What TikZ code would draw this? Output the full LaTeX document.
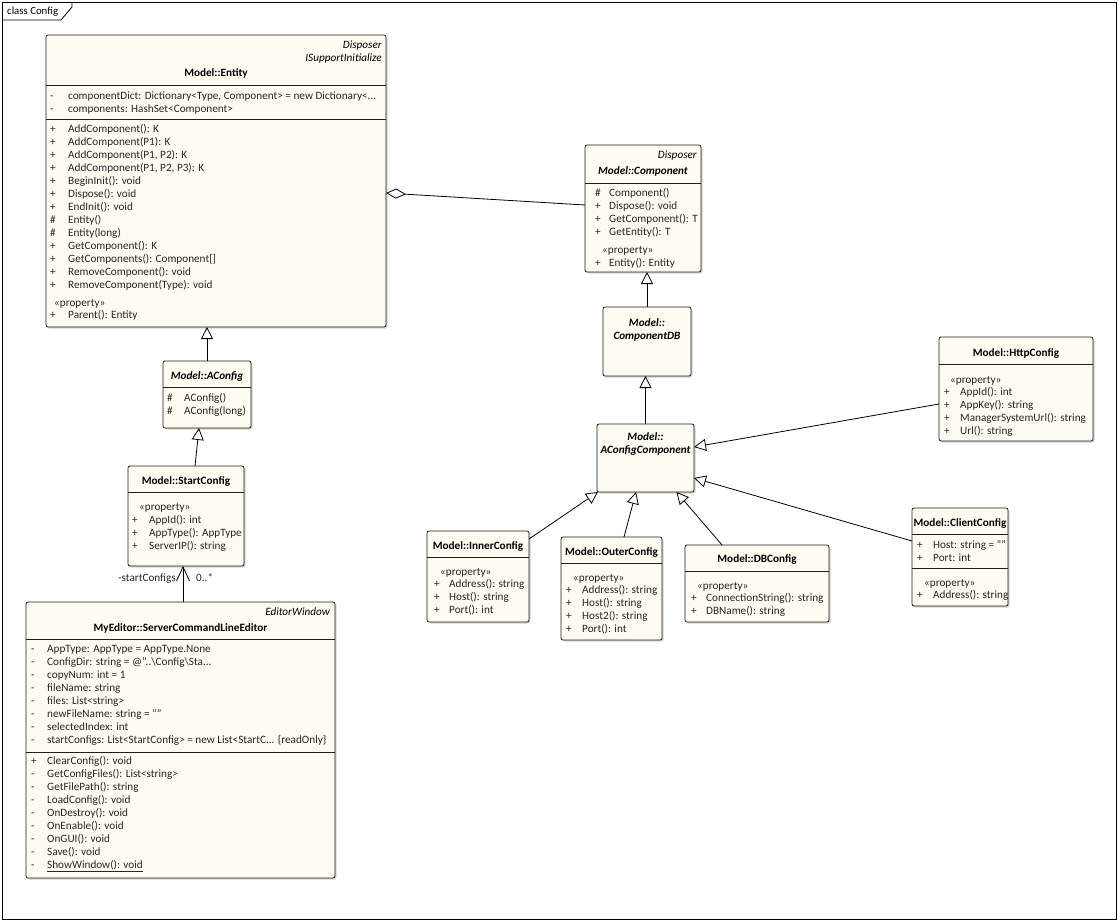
\documentclass[tikz,border=0pt]{standalone}
\usepackage{fontspec}
\setmainfont{Carlito}
\usetikzlibrary{arrows.meta,calc,shadows}
\definecolor{clsfill}{RGB}{254,252,240}
\definecolor{clsline}{RGB}{30,30,30}
\newcommand\umlm[6]{\node[mem] (#1) at (#2,#4) {\makebox[\dimexpr #3pt-#2pt\relax][l]{#5}#6};}
\newcommand\umlsep[2]{\draw[sepl] ($(#1.north west)+(0,#2)$) -- ($(#1.north east)+(0,#2)$);}
\begin{document}
\fontsize{11.2}{13}\selectfont
\begin{tikzpicture}[x=1pt,y=-1pt,
  cls/.style={draw=clsline, fill=clsfill, rounded corners=2pt, inner sep=0pt, outer sep=0pt,
    anchor=north west, line width=0.8pt,
    drop shadow={shadow xshift=1.5pt,shadow yshift=-1.5pt,fill=black!35,opacity=0.5}},
  sepl/.style={draw=clsline, line width=0.8pt},
  mem/.style={anchor=base west, inner sep=0pt, text=black!85},
  ttl/.style={anchor=base, inner sep=0pt, font=\bfseries},
  attl/.style={anchor=base, inner sep=0pt, font=\bfseries\itshape},
  ster/.style={anchor=base east, inner sep=0pt, font=\itshape},
  prop/.style={anchor=base west, inner sep=0pt, text=black!85},
  gen/.style={draw=black, line width=0.8pt, -{Triangle[length=12pt,width=12pt,fill=white]}},
  agg/.style={draw=black, line width=0.8pt, {Diamond[length=20pt,width=10pt,fill=white]}-},
  assoc/.style={draw=black, line width=0.8pt, -{Straight Barb[length=14pt,width=13pt]}},
  lbl/.style={inner sep=0pt, text=black!85}
]
\useasboundingbox (0,0) rectangle (1118,921);
\fill[white] (0,0) rectangle (1118,921);
% frame
\draw[line width=1pt] (2,2) rectangle (1116,919);
\draw[line width=0.8pt] (2,20) -- (61,20) -- (72,7) -- (72,2);
\node[anchor=base west, inner sep=0pt, font=\fontsize{10.8}{13}\selectfont] (frametitle) at (7,14.5) {class Config};

% ---------- Entity ----------
\node[cls, minimum width=340pt, minimum height=292pt] (entity) at (46,35) {};
\umlsep{entity}{50}
\umlsep{entity}{84}
\node[ster] (entity-s1) at (382,48.5) {Disposer};
\node[ster] (entity-s2) at (382,61.5) {ISupportInitialize};
\node[ttl] (entity-t) at (216,76.5) {Model::Entity};
\umlm{entity-a1}{50}{68}{99.5}{-}{componentDict: Dictionary<Type, Component> = new Dictionary<...}
\umlm{entity-a2}{50}{68}{112}{-}{components: HashSet<Component>}
\umlm{entity-o1}{50}{68}{132.8}{+}{AddComponent(): K}
\umlm{entity-o2}{50}{68}{145.8}{+}{AddComponent(P1): K}
\umlm{entity-o3}{50}{68}{158.8}{+}{AddComponent(P1, P2): K}
\umlm{entity-o4}{50}{68}{171.8}{+}{AddComponent(P1, P2, P3): K}
\umlm{entity-o5}{50}{68}{184.8}{+}{BeginInit(): void}
\umlm{entity-o6}{50}{68}{197.8}{+}{Dispose(): void}
\umlm{entity-o7}{50}{68}{210.8}{+}{EndInit(): void}
\umlm{entity-o8}{50}{68}{223.8}{\#}{Entity()}
\umlm{entity-o9}{50}{68}{236.8}{\#}{Entity(long)}
\umlm{entity-o10}{50}{68}{249.8}{+}{GetComponent(): K}
\umlm{entity-o11}{50}{68}{262.8}{+}{GetComponents(): Component[]}
\umlm{entity-o12}{50}{68}{275.8}{+}{RemoveComponent(): void}
\umlm{entity-o13}{50}{68}{288.8}{+}{RemoveComponent(Type): void}
\node[prop] (entity-p) at (54,306.2) {«property»};
\umlm{entity-p1}{50}{68}{318.5}{+}{Parent(): Entity}

% ---------- Component ----------
\node[cls, minimum width=116pt, minimum height=127pt] (comp) at (585,145) {};
\umlsep{comp}{38}
\node[ster] (comp-s1) at (697,158.5) {Disposer};
\node[attl] (comp-t) at (643,174) {Model::Component};
\umlm{comp-o1}{595}{609}{196}{\#}{Component()}
\umlm{comp-o2}{595}{609}{209}{+}{Dispose(): void}
\umlm{comp-o3}{595}{609}{222}{+}{GetComponent(): T}
\umlm{comp-o4}{595}{609}{235}{+}{GetEntity(): T}
\node[prop] (comp-p) at (602,253.5) {«property»};
\umlm{comp-p1}{595}{609}{266}{+}{Entity(): Entity}

% ---------- ComponentDB ----------
\node[cls, minimum width=88pt, minimum height=69pt] (cdb) at (603,307) {};
\node[attl] (cdb-t1) at (647,326.5) {Model::};
\node[attl] (cdb-t2) at (647,339.5) {ComponentDB};

% ---------- AConfigComponent ----------
\node[cls, minimum width=97pt, minimum height=68pt] (acc) at (597,424) {};
\node[attl] (acc-t1) at (645.5,440.5) {Model::};
\node[attl] (acc-t2) at (645.5,453.5) {AConfigComponent};

% ---------- AConfig ----------
\node[cls, minimum width=88pt, minimum height=67pt] (aconfig) at (163,361) {};
\umlsep{aconfig}{26}
\node[attl] (aconfig-t) at (207,379.5) {Model::AConfig};
\umlm{aconfig-o1}{167}{184}{401.5}{\#}{AConfig()}
\umlm{aconfig-o2}{167}{184}{414.5}{\#}{AConfig(long)}

% ---------- StartConfig ----------
\node[cls, minimum width=116pt, minimum height=100pt] (startcfg) at (128,466) {};
\umlsep{startcfg}{26}
\node[ttl] (startcfg-t) at (186,484.5) {Model::StartConfig};
\node[prop] (startcfg-p) at (139,510) {«property»};
\umlm{startcfg-p1}{132}{149}{523.5}{+}{AppId(): int}
\umlm{startcfg-p2}{132}{149}{536.5}{+}{AppType(): AppType}
\umlm{startcfg-p3}{132}{149}{549.5}{+}{ServerIP(): string}

% ---------- ServerCommandLineEditor ----------
\node[cls, minimum width=309pt, minimum height=276pt] (editor) at (26,602) {};
\umlsep{editor}{37}
\umlsep{editor}{150}
\node[ster] (editor-s1) at (330,615) {EditorWindow};
\node[ttl] (editor-t) at (180.5,631.5) {MyEditor::ServerCommandLineEditor};
\umlm{editor-a1}{31}{47}{652.5}{-}{AppType: AppType = AppType.None}
\umlm{editor-a2}{31}{47}{665.5}{-}{ConfigDir: string = @"..\textbackslash Config\textbackslash Sta...}
\umlm{editor-a3}{31}{47}{678.5}{-}{copyNum: int = 1}
\umlm{editor-a4}{31}{47}{691.5}{-}{fileName: string}
\umlm{editor-a5}{31}{47}{704.5}{-}{files: List<string>}
\umlm{editor-a6}{31}{47}{717.5}{-}{newFileName: string = ""}
\umlm{editor-a7}{31}{47}{730.5}{-}{selectedIndex: int}
\umlm{editor-a8}{31}{47}{743.5}{-}{startConfigs: List<StartConfig> = new List<StartC... \{readOnly\}}
\umlm{editor-o1}{31}{47}{764}{+}{ClearConfig(): void}
\umlm{editor-o2}{31}{47}{777}{-}{GetConfigFiles(): List<string>}
\umlm{editor-o3}{31}{47}{790}{-}{GetFilePath(): string}
\umlm{editor-o4}{31}{47}{803}{-}{LoadConfig(): void}
\umlm{editor-o5}{31}{47}{816}{-}{OnDestroy(): void}
\umlm{editor-o6}{31}{47}{829}{-}{OnEnable(): void}
\umlm{editor-o7}{31}{47}{842}{-}{OnGUI(): void}
\umlm{editor-o8}{31}{47}{855}{-}{Save(): void}
\umlm{editor-o9}{31}{47}{868}{-}{\underline{ShowWindow(): void}}

% ---------- HttpConfig ----------
\node[cls, minimum width=154pt, minimum height=104pt] (http) at (939,337) {};
\umlsep{http}{27}
\node[ttl] (http-t) at (1016,356.5) {Model::HttpConfig};
\node[prop] (http-p) at (950,383.5) {«property»};
\umlm{http-p1}{944}{960}{395}{+}{AppId(): int}
\umlm{http-p2}{944}{960}{408}{+}{AppKey(): string}
\umlm{http-p3}{944}{960}{421}{+}{ManagerSystemUrl(): string}
\umlm{http-p4}{944}{960}{434}{+}{Url(): string}

% ---------- ClientConfig ----------
\node[cls, minimum width=96pt, minimum height=98pt] (client) at (912,508) {};
\umlsep{client}{26}
\umlsep{client}{60}
\node[ttl] (client-t) at (960,526.5) {Model::ClientConfig};
\umlm{client-a1}{917}{933}{548.5}{+}{Host: string = ""}
\umlm{client-a2}{917}{933}{561}{+}{Port: int}
\node[prop] (client-p) at (924,586.5) {«property»};
\umlm{client-p1}{917}{933}{598.5}{+}{Address(): string}

% ---------- InnerConfig ----------
\node[cls, minimum width=102pt, minimum height=91pt] (inner) at (427,531) {};
\umlsep{inner}{26}
\node[ttl] (inner-t) at (478,549) {Model::InnerConfig};
\node[prop] (inner-p) at (440,575) {«property»};
\umlm{inner-p1}{434}{449}{587.5}{+}{Address(): string}
\umlm{inner-p2}{434}{449}{600.5}{+}{Host(): string}
\umlm{inner-p3}{434}{449}{613.5}{+}{Port(): int}

% ---------- OuterConfig ----------
\node[cls, minimum width=101pt, minimum height=103pt] (outer) at (561,537) {};
\umlsep{outer}{26}
\node[ttl] (outer-t) at (611.5,555) {Model::OuterConfig};
\node[prop] (outer-p) at (573,581) {«property»};
\umlm{outer-p1}{566}{582}{593.5}{+}{Address(): string}
\umlm{outer-p2}{566}{582}{606.5}{+}{Host(): string}
\umlm{outer-p3}{566}{582}{619.5}{+}{Host2(): string}
\umlm{outer-p4}{566}{582}{632.5}{+}{Port(): int}

% ---------- DBConfig ----------
\node[cls, minimum width=144pt, minimum height=77pt] (db) at (685,545) {};
\umlsep{db}{26}
\node[ttl] (db-t) at (757,562.5) {Model::DBConfig};
\node[prop] (db-p) at (697,589.5) {«property»};
\umlm{db-p1}{691}{706}{601.5}{+}{ConnectionString(): string}
\umlm{db-p2}{691}{706}{614.5}{+}{DBName(): string}

% ---------- connectors ----------
\draw[agg] ($(entity.north east)+(0,158)$) -- ($(comp.north west)+(0,60)$);
\draw[gen] (aconfig.north) -- (aconfig.north |- entity.south);
\draw[gen] ($(startcfg.north)+(9,0)$) -- ($(aconfig.south)+(-8,0)$);
\draw[assoc] ($(editor.north)+(2.5,0)$) coordinate (e1) -- (e1 |- startcfg.south);
\node[lbl, anchor=base east] (lbl-role) at ($(startcfg.south)+(-10,15.5)$) {-startConfigs};
\node[lbl, anchor=base west] (lbl-mult) at ($(startcfg.south)+(10,15.5)$) {0..*};
\draw[gen] (cdb.north) -- (cdb.north |- comp.south);
\draw[gen] (acc.north) -- (acc.north |- cdb.south);
\draw[gen] ($(inner.north east)+(0,8)$) -- ($(acc.south west)+(1,0)$);
\draw[gen] ($(outer.north)+(12.5,0)$) -- ($(acc.south)+(-9.5,0)$);
\draw[gen] ($(db.north)+(-35,0)$) -- ($(acc.south)+(31,0)$);
\draw[gen] ($(client.north west)+(0,33)$) -- ($(acc.south east)+(0,-14)$);
\draw[gen] ($(http.north west)+(0,67)$) -- ($(acc.north east)+(0,23)$);
\end{tikzpicture}
\end{document}
